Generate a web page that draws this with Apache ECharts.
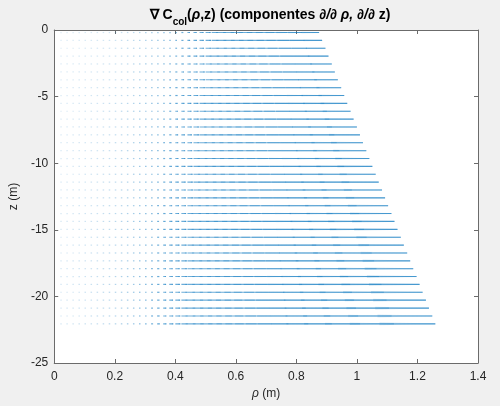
<!DOCTYPE html>
<html>
<head>
<meta charset="utf-8">
<script src="https://cdn.jsdelivr.net/npm/echarts@6/dist/echarts.min.js"></script>
<style>
html,body{margin:0;padding:0;background:#f0f0f0;}
#chart{width:500px;height:406px;}
</style>
</head>
<body>
<div id="chart"></div>
<script>
// z levels of the quiver rows (m)
const zLevels = [-0.19,-0.78,-1.37,-1.96,-2.55,-3.15,-3.74,-4.33,-4.92,-5.51,-6.10,-6.69,-7.28,-7.87,-8.46,-9.06,-9.65,-10.24,-10.83,-11.42,-12.01,-12.60,-13.19,-13.78,-14.37,-14.97,-15.56,-16.15,-16.74,-17.33,-17.92,-18.51,-19.10,-19.69,-20.28,-20.88,-21.47,-22.06];
// rho where the last arrow of each row ends (m)
const rowEnd = [0.875,0.885,0.896,0.906,0.917,0.927,0.937,0.948,0.958,0.968,0.979,0.989,1.000,1.010,1.020,1.031,1.041,1.051,1.062,1.072,1.083,1.093,1.103,1.114,1.124,1.134,1.145,1.155,1.166,1.176,1.186,1.197,1.207,1.217,1.228,1.238,1.249,1.259];
// arrow base positions along rho (m)
const rhoGrid = [0.02,0.04,0.06,0.08,0.10,0.12,0.14,0.16,0.18,0.20,0.22,0.24,0.26,0.28,0.30,0.32,0.34,0.36,0.38,0.40,0.42,0.44,0.46,0.48,0.50,0.52,0.54,0.56,0.58,0.60,0.62,0.64,0.66,0.68,0.70];
// relative arrow length (d/drho component) per column, top row
const lenProfile = [0.00006,0.00007,0.00009,0.00012,0.00015,0.00019,0.00023,0.00030,0.00037,0.00047,0.00060,0.00076,0.00095,0.00121,0.00153,0.00193,0.00243,0.00308,0.00389,0.00491,0.00621,0.00785,0.00991,0.01253,0.01583,0.02000,0.02527,0.03193,0.04035,0.05099,0.06443,0.08141,0.10288,0.13000,0.16427];
const xTicks = [0,0.2,0.4,0.6,0.8,1,1.2,1.4];
const xTickLabels = ['0','0.2','0.4','0.6','0.8','1','1.2','1.4'];
const yTicks = [-25,-20,-15,-10,-5,0];
const yTickLabels = ['-25','-20','-15','-10','-5','0'];

const COLOR = '#0072BD';
const FONT = '"Liberation Sans", Arial, Helvetica, sans-serif';

function renderRow(params, api) {
  const j = params.dataIndex;
  const z = zLevels[j];
  const last = rhoGrid.length - 1;
  const g = (rowEnd[j] - rhoGrid[last]) / lenProfile[last];
  const children = [];
  let shaft = '';
  let heads = '';
  for (let i = 0; i < rhoGrid.length; i++) {
    const r = rhoGrid[i];
    const L = lenProfile[i] * g;
    const p0 = api.coord([r, z]);
    const p1 = api.coord([r + L, z]);
    const lpx = p1[0] - p0[0];
    if (lpx < 2.5) {
      const op = 0.07 + 0.55 * Math.sqrt(Math.min(1, lpx / 2.5));
      children.push({
        type: 'line',
        shape: { x1: p0[0], y1: p0[1], x2: p0[0] + Math.max(lpx, 1.5), y2: p0[1] },
        style: { stroke: COLOR, lineWidth: 1.2, opacity: op }
      });
    } else {
      shaft += 'M' + p0[0] + ' ' + p0[1] + 'L' + p1[0] + ' ' + p1[1];
      const hu = api.coord([r + L - 0.33 * L, z + 0.11 * L]);
      const hd = api.coord([r + L - 0.33 * L, z - 0.11 * L]);
      heads += 'M' + hu[0] + ' ' + hu[1] + 'L' + p1[0] + ' ' + p1[1] + 'L' + hd[0] + ' ' + hd[1];
    }
  }
  if (shaft) {
    children.push({ type: 'path', shape: { pathData: shaft },
      style: { stroke: COLOR, fill: null, lineWidth: 1.1, opacity: 0.58 } });
  }
  if (heads) {
    children.push({ type: 'path', shape: { pathData: heads },
      style: { stroke: COLOR, fill: null, lineWidth: 1, opacity: 0.2 } });
  }
  return { type: 'group', children: children };
}

const axisLineStyle = { color: '#6b6b6b', width: 1 };
const chart = echarts.init(document.getElementById('chart'), null, { renderer: 'canvas' });
chart.setOption({
  backgroundColor: '#f0f0f0',
  animation: false,
  title: {
    text: '{b|∇ C}{sub|col}{b|(}{it|ρ}{b|,z) (componentes }{it|∂/∂ ρ, ∂/∂ }{b|z)}',
    left: 265, textAlign: 'center', top: 3,
    textStyle: {
      rich: {
        b: { fontFamily: FONT, fontSize: 14, fontWeight: 'bold', color: '#000', lineHeight: 16, verticalAlign: 'top' },
        it: { fontFamily: FONT, fontSize: 14, fontStyle: 'italic', color: '#000', lineHeight: 16, verticalAlign: 'top' },
        sub: { fontFamily: FONT, fontSize: 10, fontWeight: 'bold', color: '#000', lineHeight: 11, padding: [9, 0, 0, 0], verticalAlign: 'top' }
      }
    }
  },
  grid: { left: 53, right: 22, top: 30, bottom: 43, show: true, backgroundColor: '#ffffff', borderWidth: 0 },
  xAxis: [{
    type: 'value', min: 0, max: 1.4, interval: 0.2, position: 'bottom',
    name: '{it|ρ} (m)', nameLocation: 'middle', nameGap: 25,
    nameTextStyle: { fontFamily: FONT, fontSize: 12, color: '#262626',
      rich: { it: { fontFamily: FONT, fontSize: 12, fontStyle: 'italic', color: '#262626' } } },
    axisLine: { show: true, onZero: false, lineStyle: axisLineStyle },
    axisTick: { show: true, inside: true, length: 4, lineStyle: axisLineStyle },
    axisLabel: { fontFamily: FONT, fontSize: 12, color: '#262626', margin: 8,
      formatter: v => { const k = xTicks.findIndex(t => Math.abs(t - v) < 1e-6); return k >= 0 ? xTickLabels[k] : ''; } },
    splitLine: { show: false }
  }, {
    type: 'value', min: 0, max: 1.4, interval: 0.2, position: 'top',
    axisLine: { show: true, onZero: false, lineStyle: axisLineStyle },
    axisTick: { show: true, inside: true, length: 4, lineStyle: axisLineStyle },
    axisLabel: { show: false }, splitLine: { show: false }
  }],
  yAxis: [{
    type: 'value', min: -25, max: 0, interval: 5, position: 'left',
    name: 'z (m)', nameLocation: 'middle', nameGap: 32,
    nameTextStyle: { fontFamily: FONT, fontSize: 12, color: '#262626' },
    axisLine: { show: true, onZero: false, lineStyle: axisLineStyle },
    axisTick: { show: true, inside: true, length: 4, lineStyle: axisLineStyle },
    axisLabel: { fontFamily: FONT, fontSize: 12, color: '#262626', margin: 6,
      formatter: v => { const k = yTicks.findIndex(t => Math.abs(t - v) < 1e-6); return k >= 0 ? yTickLabels[k] : ''; } },
    splitLine: { show: false }
  }, {
    type: 'value', min: -25, max: 0, interval: 5, position: 'right',
    axisLine: { show: true, onZero: false, lineStyle: axisLineStyle },
    axisTick: { show: true, inside: true, length: 4, lineStyle: axisLineStyle },
    axisLabel: { show: false }, splitLine: { show: false }
  }],
  series: [{
    type: 'custom',
    xAxisIndex: 0, yAxisIndex: 0,
    renderItem: renderRow,
    data: zLevels.map((z, j) => [rowEnd[j], z]),
    encode: { x: 0, y: 1 },
    clip: true,
    silent: true
  }]
});
</script>
</body>
</html>
